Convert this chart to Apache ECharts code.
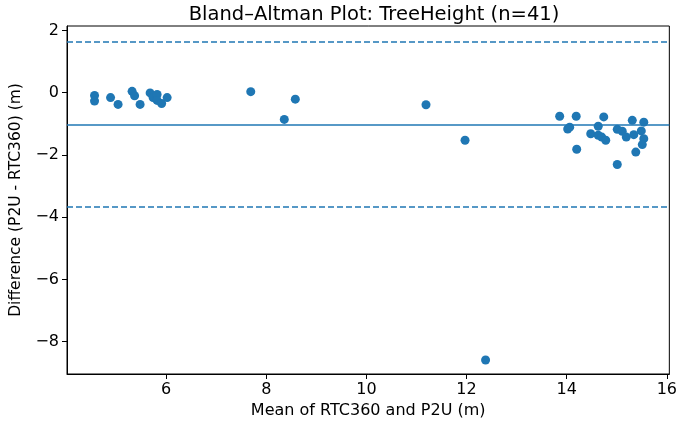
<!DOCTYPE html>
<html>
<head>
<meta charset="utf-8">
<script src="https://cdn.jsdelivr.net/npm/echarts@6/dist/echarts.min.js"></script>
<style>html,body{margin:0;padding:0;background:#fff}#c{width:680px;height:424px}</style>
</head>
<body>
<div id="c"></div>
<script>
// Mean of the two methods (x) and difference (y)
const meanValues = [
  4.57, 4.57, 4.89, 5.04, 5.32, 5.37, 5.48, 5.68, 5.74, 5.82, 5.82, 5.91, 6.02,
  7.69, 8.58, 8.36, 11.19, 11.97, 12.38,
  13.86, 14.19, 14.74, 14.02, 14.06, 14.20, 14.63, 14.48, 14.63, 14.70, 14.78,
  15.01, 15.11, 15.19, 15.01, 15.31, 15.34, 15.38, 15.54, 15.49, 15.54, 15.51
];
const diffValues = [
  -0.09, -0.27, -0.16, -0.38, 0.04, -0.10, -0.38, -0.01, -0.16, -0.06, -0.25, -0.35, -0.16,
  0.03, -0.21, -0.86, -0.39, -1.53, -8.59,
  -0.76, -0.76, -0.78, -1.17, -1.11, -1.82, -1.08, -1.32, -1.37, -1.43, -1.53,
  -1.18, -1.24, -1.43, -2.31, -0.89, -1.35, -1.91, -0.95, -1.23, -1.48, -1.67
];
const meanDiff = -1.02;
const upperLoA = 1.64;
const lowerLoA = -3.67;
const xTicks = [6, 8, 10, 12, 14, 16];
const yTicks = [-8, -6, -4, -2, 0, 2];

const points = meanValues.map((m, i) => [m, diffValues[i]]);
const blue = '#1f77b4';
const font = 'DejaVu Sans';

const chart = echarts.init(document.getElementById('c'), null, {renderer: 'canvas'});
chart.setOption({
  animation: false,
  backgroundColor: '#fff',
  title: {
    text: 'Bland–Altman Plot: TreeHeight (n=41)',
    left: 369, top: 0, textAlign: 'center',
    textStyle: {fontFamily: font, fontSize: 19.5, fontWeight: 'normal', color: '#000'}
  },
  grid: {
    left: 65, right: 8, top: 26, bottom: 50,
    show: true, borderColor: '#000', borderWidth: 1, backgroundColor: 'transparent'
  },
  xAxis: {
    type: 'value', min: 4.02, max: 16.05,
    name: 'Mean of RTC360 and P2U (m)', nameLocation: 'middle', nameGap: 29,
    nameTextStyle: {fontFamily: font, fontSize: 16, color: '#000'},
    axisLine: {show: true, onZero: false, lineStyle: {color: '#000', width: 1}},
    axisTick: {show: true, length: 5, customValues: xTicks, lineStyle: {color: '#000'}},
    axisLabel: {customValues: xTicks, margin: 8, fontFamily: font, fontSize: 16, color: '#000'},
    splitLine: {show: false}
  },
  yAxis: {
    type: 'value', min: -9.04, max: 2.14,
    name: 'Difference (P2U - RTC360) (m)', nameLocation: 'middle', nameGap: 43,
    nameTextStyle: {fontFamily: font, fontSize: 15.5, color: '#000'},
    axisLine: {show: true, onZero: false, lineStyle: {color: '#000', width: 1}},
    axisTick: {show: true, length: 5, customValues: yTicks, lineStyle: {color: '#000'}},
    axisLabel: {customValues: yTicks, margin: 8, fontFamily: font, fontSize: 16, color: '#000',
      formatter: v => (v < 0 ? '\u2212' + Math.abs(v) : String(v))},
    splitLine: {show: false}
  },
  series: [{
    type: 'scatter',
    data: points,
    symbolSize: 9,
    itemStyle: {color: blue, opacity: 1},
    markLine: {
      silent: true, symbol: 'none', animation: false,
      label: {show: false},
      data: [
        {yAxis: meanDiff, lineStyle: {color: blue, width: 1.5, type: 'solid'}},
        {yAxis: upperLoA, lineStyle: {color: blue, width: 1.5, type: [6, 3]}},
        {yAxis: lowerLoA, lineStyle: {color: blue, width: 1.5, type: [6, 3]}}
      ]
    }
  }]
});
</script>
</body>
</html>
